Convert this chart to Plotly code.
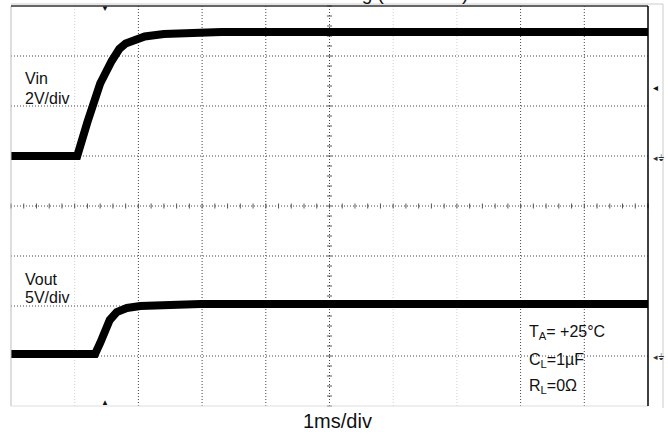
import plotly.graph_objects as go

# Oscilloscope capture: input step and regulator output, 1 ms/div
W, H = 668, 437
L, R, T, B = 11, 648, 6, 406          # graticule box in page pixels
NX, NY = 10, 8                         # divisions

# Vin trace (2 V/div), time in ms from the left graticule edge
vin_t = [0.0, 1.04, 1.20, 1.40, 1.58, 1.70, 1.80, 1.92, 2.10, 2.40, 2.80, 3.30, 10.0]
vin_v = [0.0, 0.00, 1.36, 2.90, 3.80, 4.28, 4.50, 4.64, 4.78, 4.88, 4.94, 4.96, 4.96]

# Vout trace (5 V/div)
vout_t = [0.0, 1.32, 1.40, 1.48, 1.55, 1.66, 1.82, 2.03, 2.44, 2.97, 10.0]
vout_v = [0.0, 0.00, 1.10, 2.40, 3.40, 4.20, 4.60, 4.80, 4.95, 5.00, 5.00]

# Notes drawn on the screen
ch1_label = ["Vin", "2V/div"]
ch2_label = ["Vout", "5V/div"]
cond_label = ["T<sub>A</sub>= +25°C", "C<sub>L</sub>=1µF", "R<sub>L</sub>=0Ω"]
time_label = "1ms/div"
title_text = "Turn-On Timing (Full Load)"

FONT = "Liberation Sans, Arial, Helvetica, sans-serif"


def px(x):
    return (x - L) / (R - L)


def py(y):
    return (B - y) / (B - T)


fig = go.Figure()
fig.add_trace(go.Scatter(x=vin_t, y=vin_v, mode="lines", yaxis="y",
                         line=dict(color="#000000", width=8), hoverinfo="skip"))
fig.add_trace(go.Scatter(x=vout_t, y=vout_v, mode="lines", yaxis="y2",
                         line=dict(color="#000000", width=8), hoverinfo="skip"))

shapes = []
dot = "1px,2px"
faint_cols = {1, 6, 7}
for k in range(1, NX):
    shapes.append(dict(type="line", xref="x", yref="paper", x0=k, x1=k, y0=0, y1=1,
                       line=dict(color="#cfcfcf" if k in faint_cols else "#444444",
                                 width=1, dash=dot), layer="below"))
for k in range(1, NY):
    shapes.append(dict(type="line", xref="paper", yref="paper", x0=0, x1=1,
                       y0=k / NY, y1=k / NY,
                       line=dict(color="#444444", width=1, dash=dot), layer="below"))

# minor ticks on the centre cross
tick_w = 2.5 / (R - L)
tick_h = 2.5 / (B - T)
for i in range(NY * 5 + 1):
    yv = i / (NY * 5)
    shapes.append(dict(type="line", xref="paper", yref="paper",
                       x0=0.5 - tick_w, x1=0.5 + tick_w, y0=yv, y1=yv,
                       line=dict(color="#555555", width=1), layer="below"))
for i in range(NX * 5 + 1):
    xv = i / (NX * 5)
    shapes.append(dict(type="line", xref="paper", yref="paper",
                       x0=xv, x1=xv, y0=0.5 - tick_h, y1=0.5 + tick_h,
                       line=dict(color="#555555", width=1), layer="below"))

# frame
shapes += [
    dict(type="line", xref="paper", yref="paper", x0=0, x1=px(663), y0=py(4), y1=py(4),
         line=dict(color="#cccccc", width=1)),
    dict(type="line", xref="paper", yref="paper", x0=px(663), x1=px(663), y0=py(4), y1=py(408),
         line=dict(color="#cccccc", width=1)),
    dict(type="line", xref="paper", yref="paper", x0=0, x1=0, y0=0, y1=1,
         line=dict(color="#bbbbbb", width=1)),
    dict(type="line", xref="paper", yref="paper", x0=0, x1=1, y0=0, y1=0,
         line=dict(color="#dddddd", width=1)),
    dict(type="line", xref="paper", yref="paper", x0=0, x1=1, y0=1, y1=1,
         line=dict(color="#333333", width=1.5)),
    dict(type="line", xref="paper", yref="paper", x0=1, x1=1, y0=0, y1=1,
         line=dict(color="#000000", width=1.5)),
]

ann = []


def text(s, x, y, size, xanchor="left", yanchor="middle", color="#111111"):
    ann.append(dict(text=s, x=px(x), y=py(y), xref="paper", yref="paper",
                    xanchor=xanchor, yanchor=yanchor, showarrow=False, borderpad=0,
                    font=dict(family=FONT, size=size, color=color)))


text(ch1_label[0], 24, 78, 16)
text(ch1_label[1], 24, 98, 16)
text(ch2_label[0], 24, 279, 16)
text(ch2_label[1], 24, 297, 16)
text(cond_label[0], 528, 332, 16)
text(cond_label[1], 528, 360, 16)
text(cond_label[2], 528, 386, 16)
text(time_label, 337, 421, 20, xanchor="center")
text(title_text, 240, 5, 19, yanchor="bottom")

# trigger position, trigger level and channel ground markers
text("▼", 105, 8, 8, xanchor="center")
text("▲", 105, 402, 8, xanchor="center")
text("◂", 655, 88, 10, xanchor="center")
text("◂⏚", 652, 158, 9, color="#333333")
text("◂⏚", 652, 357, 9, color="#333333")

vin_span = 2.0 * NY
vout_span = 5.0 * NY
fig.update_layout(
    width=W, height=H, autosize=False,
    margin=dict(l=L, r=W - R, t=T, b=H - B, pad=0),
    paper_bgcolor="white", plot_bgcolor="white",
    showlegend=False,
    xaxis=dict(range=[0, NX], visible=False, fixedrange=True),
    yaxis=dict(range=[-10.0, -10.0 + vin_span], visible=False),
    yaxis2=dict(range=[-5.2, -5.2 + vout_span], visible=False, overlaying="y"),
    shapes=shapes, annotations=ann,
)

fig.write_html("out.html")
